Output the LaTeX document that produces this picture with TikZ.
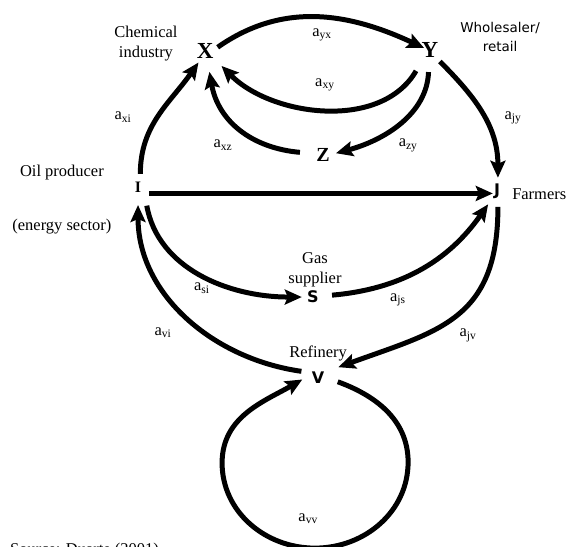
\documentclass[tikz,border=0pt]{standalone}
\usepackage{fontspec}
\setmainfont{Liberation Serif}
\newfontfamily\verdfont{DejaVu Sans}
\usetikzlibrary{arrows.meta}

\begin{document}
\begin{tikzpicture}[>=Stealth,
  flow/.style={line width=5pt, -{Stealth[length=17pt,width=15pt,inset=3pt]}},
  sector/.style={circle, inner sep=0pt, minimum size=26pt, font=\bfseries\fontsize{23}{23}\selectfont},
  ssector/.style={sector, font=\verdfont\bfseries\fontsize{16}{16}\selectfont},
  lbl/.style={font=\fontsize{16.5}{20}\selectfont, align=center, inner sep=0pt},
  slbl/.style={font=\verdfont\fontsize{13.5}{19}\selectfont, align=center, inner sep=0pt},
  coef/.style={font=\fontsize{16.5}{20}\selectfont, inner sep=0pt}]
  %% page frame
  \useasboundingbox (0,0) rectangle (20.0,19.26);
  %% sectors
  \node[sector] (X) at (7.22,17.46) {X};
  \node[sector] (Y) at (15.14,17.50) {Y};
  \node[sector, font=\bfseries\fontsize{20}{20}\selectfont] (Z) at (11.37,13.80) {Z};
  \node[sector, font=\bfseries\fontsize{16}{16}\selectfont] (I) at (4.86,12.68) {I};
  \node[ssector] (J) at (17.50,12.54) {J};
  \node[ssector] (S) at (11.02,8.80) {S};
  \node[ssector] (V) at (11.20,5.95) {V};
  %% loop under the refinery
  \coordinate (loopR) at (14.37,2.99);
  \coordinate (loopB) at (11.09,-0.04);
  \coordinate (loopL) at (7.82,2.96);
  %% sector names
  \node[lbl] (chem) at (5.14,17.71) {Chemical\\industry};
  \node[slbl] (whole) at (17.61,17.96) {Wholesaler/\\retail};
  \node[lbl] (oil) at (2.18,13.17) {Oil producer};
  \node[lbl] (energy) at (2.18,11.27) {(energy sector)};
  \node[lbl, anchor=base west] (farm) at (18.03,12.22) {Farmers};
  \node[lbl] (gas) at (11.09,9.75) {Gas\\supplier};
  \node[lbl] (refin) at (11.20,6.83) {Refinery};
  %% flows
  \draw[flow, shorten >=-7pt] (X.17) to[out=35,in=155] (Y.158);
  \draw[flow, shorten <=12pt, shorten >=9pt] (Y.-127) to[out=-120,in=-45] (X.-40);
  \draw[flow, shorten <=10pt, shorten >=8pt] (Z.172) to[out=175,in=-80,looseness=1.1] (X.-77);
  \draw[flow, shorten <=9pt] (Y.-95) to[out=-92,in=15] (Z.8);
  \draw[flow, shorten <=2pt] (Y.-50) to[out=-45,in=90] (J.86);
  \draw[flow] (I.80) to[out=90,in=-125] (X.-120);
  \draw[flow, shorten >=-9pt] (I.-30) -- (I.-30 -| J.west);
  \draw[flow, shorten <=8pt, shorten >=-2pt] (I.-56) to[out=-80,in=180] (S.west);
  \draw[flow, shorten <=6pt, shorten >=3pt] (S.6) to[out=5,in=-125] (J.-123);
  \draw[flow, shorten <=5pt, shorten >=5pt] (V.153) to[out=172,in=-90] (I.-90);
  \draw[flow, shorten <=3pt, shorten >=10pt] (J.-86) to[out=-90,in=20,looseness=1.25] (V.34);
  \draw[flow, shorten <=7pt, shorten >=3pt] (V.-6) to[out=-20,in=90] (loopR)
    to[out=-90,in=0] (loopB) to[out=180,in=-90] (loopL) to[out=90,in=-150] (V.180);
  %% coefficients
  \node[coef] (ayx) at (11.34,18.03) {a\textsubscript{yx}};
  \node[coef] (axy) at (11.44,16.27) {a\textsubscript{xy}};
  \node[coef] (axi) at (4.33,15.14) {a\textsubscript{xi}};
  \node[coef] (axz) at (7.85,14.15) {a\textsubscript{xz}};
  \node[coef] (azy) at (14.37,14.15) {a\textsubscript{zy}};
  \node[coef] (ajy) at (18.06,15.11) {a\textsubscript{jy}};
  \node[coef] (asi) at (7.11,9.12) {a\textsubscript{si}};
  \node[coef] (ajs) at (14.01,8.70) {a\textsubscript{js}};
  \node[coef] (avi) at (5.74,7.54) {a\textsubscript{vi}};
  \node[coef] (ajv) at (16.48,7.46) {a\textsubscript{jv}};
  \node[coef] (avv) at (10.85,0.99) {a\textsubscript{vv}};
  %% source line (cut by the page edge)
  \node[lbl, anchor=base west] (src) at (0.35,-0.28) {Source: Duarte (2001)};
\end{tikzpicture}
\end{document}
